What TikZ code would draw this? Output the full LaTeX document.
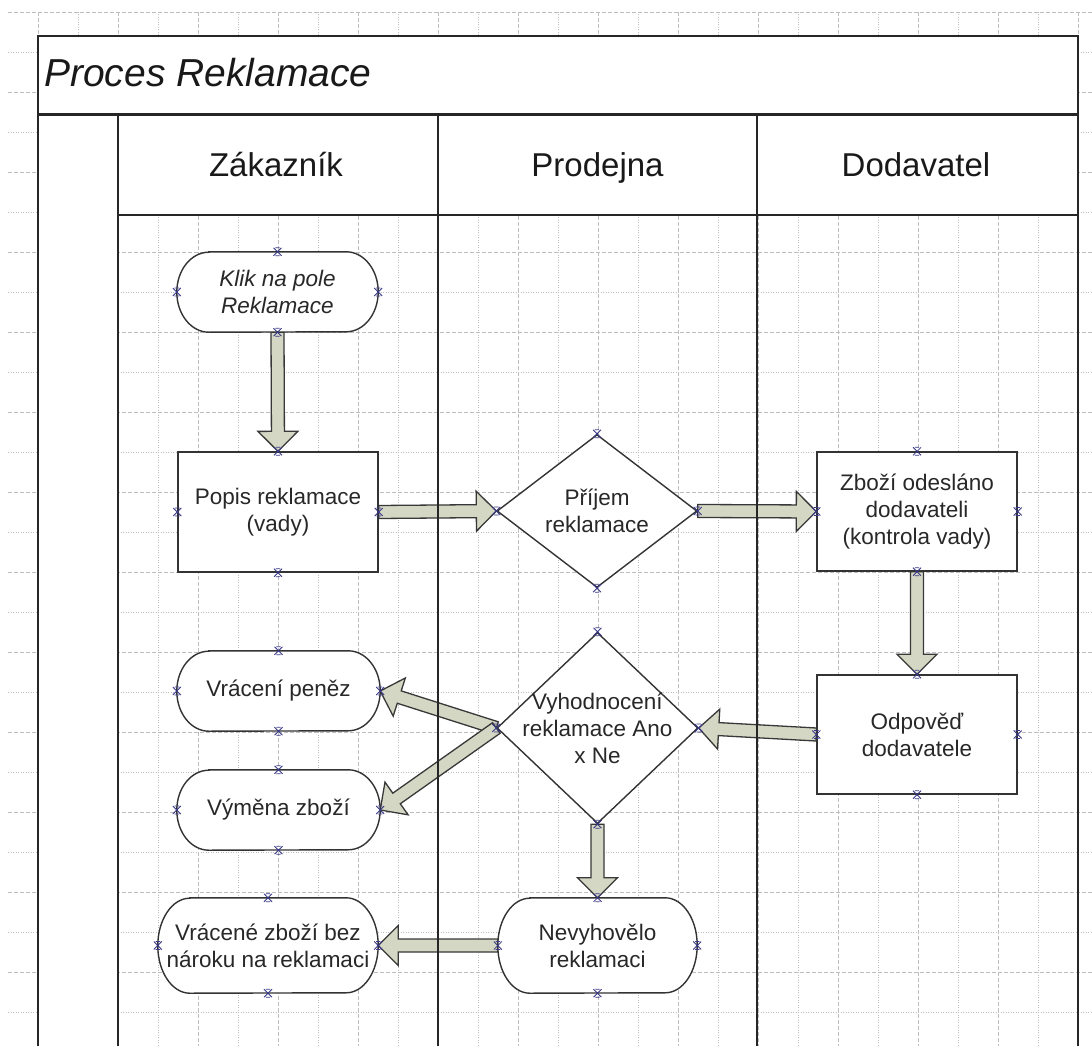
\documentclass[tikz,border=0pt]{standalone}
\usepackage{fontspec}
\setmainfont{Liberation Sans}
\usetikzlibrary{shapes.geometric,calc}
\pgfdeclarelayer{gridlayer}
\pgfdeclarelayer{arrowlayer}
\pgfdeclarelayer{lanelayer}
\pgfdeclarelayer{shapelayer}
\pgfsetlayers{gridlayer,arrowlayer,lanelayer,shapelayer,main}

\definecolor{arrfill}{RGB}{212,215,196}
\definecolor{xmark}{RGB}{55,55,135}
\definecolor{gridc}{RGB}{190,190,190}
\definecolor{txtc}{RGB}{40,40,40}

\tikzset{
  majorgrid/.style={gridc, line width=0.8pt, dash pattern=on 4pt off 2pt},
  minorgrid/.style={gridc, line width=0.8pt, dash pattern=on 1pt off 1.5pt},
  poolline/.style={draw=black!85, line width=1.8pt},
  shapeline/.style={draw=black!80, line width=1.4pt, fill=white},
  nodefont/.style={font=\fontsize{22.5}{27}\selectfont, text=txtc},
  boxnode/.style={rectangle, shapeline, align=center, nodefont, inner sep=0pt},
  termnode/.style={rectangle, draw=none, align=center, nodefont, inner sep=0pt},
  dianode/.style={diamond, shapeline, inner sep=0pt},
  txt/.style={align=center, nodefont, inner sep=0pt},
  headtxt/.style={font=\fontsize{33}{38}\selectfont, text=black!90, anchor=base},
  blockarrow/.style={fill=arrfill, draw=black!78, line width=1.3pt, line join=miter},
  xm/.style={xmark, line width=0.8pt},
}

\newcommand\termshape[2]{%
  \begin{pgfonlayer}{shapelayer}
  \draw[shapeline] ($(#1.north west)+(32pt,0pt)$) -- ($(#1.north east)+(-32pt,0pt)$)
    arc[start angle=90,end angle=-90,x radius=32pt,y radius=#2pt]
    -- ($(#1.south west)+(32pt,0pt)$)
    arc[start angle=270,end angle=90,x radius=32pt,y radius=#2pt] -- cycle;
  \end{pgfonlayer}}

\newcommand\barrow[2]{%
  \coordinate (bh) at ($(#2)!20pt!(#1)$);
  \draw[blockarrow] ($(#1)!6.5pt!90:(#2)$) -- ($(bh)!6.5pt!90:(#2)$) -- ($(bh)!20pt!90:(#2)$)
    -- (#2) -- ($(bh)!20pt!-90:(#2)$) -- ($(bh)!6.5pt!-90:(#2)$) -- ($(#1)!6.5pt!-90:(#2)$) -- cycle;}

\newcommand\xmk[1]{%
  \draw[xm] (#1) +(-4pt,-4pt) -- +(4pt,4pt) +(-4pt,4pt) -- +(4pt,-4pt)
    +(-2.2pt,4pt) -- +(2.2pt,4pt) +(-2.2pt,-4pt) -- +(2.2pt,-4pt);}

\begin{document}
\begin{tikzpicture}[x=1pt,y=-1pt]
\useasboundingbox (0,0) rectangle (1092,1046);

% ---------- background grid and white areas
\begin{pgfonlayer}{gridlayer}
  \fill[white] (0,0) rectangle (1092,1046);
  \foreach \k in {0,...,26} {
    \pgfmathtruncatemacro\xx{38+40*\k}
    \ifodd\k \draw[minorgrid] (\xx,12) -- (\xx,1046); \else \draw[majorgrid] (\xx,12) -- (\xx,1046); \fi
  }
  \foreach \k in {0,...,25} {
    \pgfmathtruncatemacro\yy{12+40*\k}
    \ifodd\k \draw[minorgrid] (8,\yy) -- (1092,\yy); \else \draw[majorgrid] (8,\yy) -- (1092,\yy); \fi
  }
  \fill[white] (38,36) rectangle (1078,115);
  \fill[white] (118,115) rectangle (1078,215);
  \fill[white] (38,115) rectangle (118,1046);
\end{pgfonlayer}

% ---------- pool and lanes
\begin{pgfonlayer}{lanelayer}
  \draw[poolline] (38,1046) -- (38,36) -- (1078,36) -- (1078,1046);
  \draw[poolline, line width=3pt] (38,115) -- (1078,115);
  \draw[poolline] (118,115) -- (118,1046);
  \draw[poolline] (438,115) -- (438,1046);
  \draw[poolline] (757,115) -- (757,1046);
  \draw[poolline] (118,215) -- (1078,215);
\end{pgfonlayer}

\node[font=\fontsize{39}{44}\selectfont\itshape, text=black!90, anchor=base west, inner sep=0pt] (title) at (44,87) {Proces Reklamace};
\node[headtxt] (h1) at (276,176) {Zákazník};
\node[headtxt] (h2) at (597.5,176) {Prodejna};
\node[headtxt] (h3) at (916,176) {Dodavatel};

% ---------- nodes
\node[termnode, minimum width=201, minimum height=80] (klik) at (277.5,292) {\itshape Klik na pole\\\itshape Reklamace};
\termshape{klik}{40}

\node[boxnode, minimum width=200, minimum height=120] (popis) at (278,512) {Popis reklamace\\(vady)};

\node[dianode, minimum width=200, minimum height=153,
      label={[txt]center:{Příjem\\reklamace}}] (prijem) at (597,511) {};

\node[boxnode, minimum width=200, minimum height=119] (zbozi) at (917,511.5) {Zboží odesláno\\dodavateli\\(kontrola vady)};

\node[boxnode, minimum width=200, minimum height=119] (odp) at (917,734.5) {Odpověď\\dodavatele};

\node[dianode, minimum width=201, minimum height=191,
      label={[txt]center:{Vyhodnocení\\reklamace Ano\\x Ne}}] (vyh) at (597.5,728) {};

\node[termnode, minimum width=203, minimum height=80] (vrac) at (278.5,691) {Vrácení peněz};
\termshape{vrac}{40}

\node[termnode, minimum width=203, minimum height=80] (vym) at (278.5,810) {Výměna zboží};
\termshape{vym}{40}

\node[termnode, minimum width=220, minimum height=95] (vrz) at (268,945.5) {Vrácené zboží bez\\nároku na reklamaci};
\termshape{vrz}{47.5}

\node[termnode, minimum width=199, minimum height=95] (nev) at (597.5,945.5) {Nevyhovělo\\reklamaci};
\termshape{nev}{47.5}

% ---------- block arrows
\begin{pgfonlayer}{arrowlayer}
  \barrow{klik.south}{popis.north}
  \barrow{popis.east}{prijem.west}
  \barrow{prijem.east}{zbozi.west}
  \barrow{zbozi.south}{odp.north}
  \barrow{odp.west}{vyh.east}
  \barrow{vyh.west}{vrac.east}
  \barrow{vyh.west}{vym.east}
  \barrow{vyh.south}{nev.north}
  \barrow{nev.west}{vrz.east}
\end{pgfonlayer}

% ---------- connection point marks
\foreach \n in {klik,popis,prijem,zbozi,odp,vyh,vrac,vym,vrz,nev}
  \foreach \a in {north,south,east,west} { \xmk{\n.\a} }

\end{tikzpicture}
\end{document}
